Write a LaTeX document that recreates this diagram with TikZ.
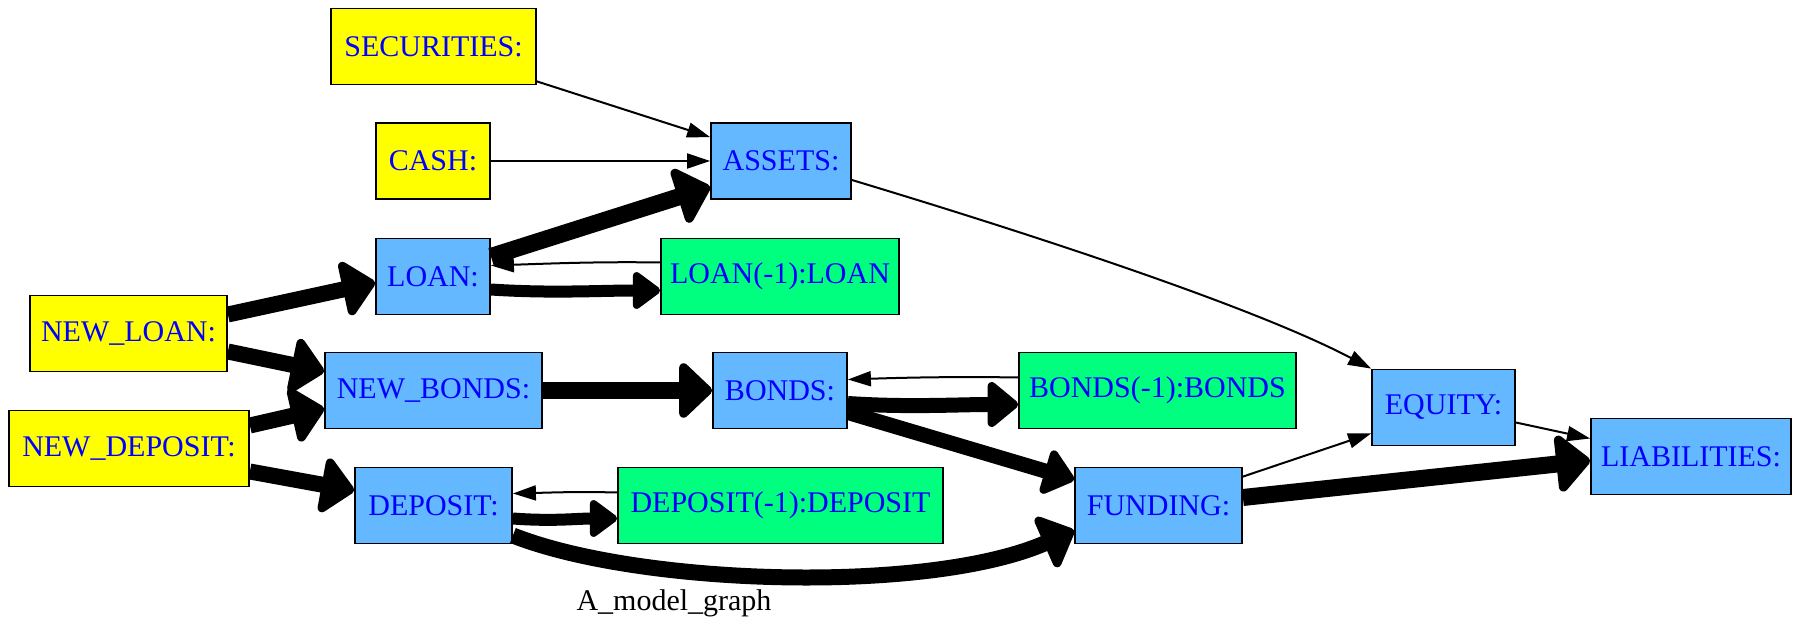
\documentclass[tikz,border=0pt]{standalone}
\usepackage{fontspec}
\setmainfont{Liberation Serif}
\usetikzlibrary{arrows.meta,calc}
\definecolor{gvyellow}{RGB}{255,255,0}
\definecolor{gvblue}{RGB}{99,184,255}
\definecolor{gvgreen}{RGB}{0,255,127}
\definecolor{gvtext}{RGB}{0,0,255}
\tikzset{
  box/.style={draw=black, line width=0.9pt, rectangle, minimum height=38pt, inner sep=0pt,
    font=\fontsize{15pt}{18pt}\selectfont, text=gvtext},
  exo/.style={box, fill=gvyellow},
  endo/.style={box, fill=gvblue},
  lagged/.style={box, fill=gvgreen},
  thin/.style={line width=1pt, -{Triangle[length=11.5pt,width=7.5pt]}},
  wA/.style={line width=6pt, line join=round, -{Triangle[round,line width=4pt,length=15pt,width=21pt]}},
  wB/.style={line width=7.5pt, line join=round, -{Triangle[round,line width=5pt,length=16.5pt,width=26pt]}},
  wC/.style={line width=8pt, line join=round, -{Triangle[round,line width=5pt,length=17.5pt,width=32pt]}},
  wD/.style={line width=8.5pt, line join=round, -{Triangle[round,line width=5pt,length=18pt,width=33pt]}},
}
\begin{document}
\begin{tikzpicture}[x=0.5pt,y=-0.5pt]
\useasboundingbox (0,0) rectangle (1800,636);
% nodes
\node[exo, minimum width=102.5pt] (sec) at (433.5,46.5) {SECURITIES:};
\node[exo, minimum width=57pt] (cash) at (433,161) {CASH:};
\node[endo, minimum width=70pt] (assets) at (781,161) {ASSETS:};
\node[endo, minimum width=57pt] (loan) at (433,276.5) {LOAN:};
\node[lagged, minimum width=119pt] (loanl) at (780,276.5) {LOAN(-1):LOAN};
\node[exo, minimum width=98.5pt] (newloan) at (128.5,333.5) {NEW\_LOAN:};
\node[endo, minimum width=108.5pt] (newbonds) at (433.5,390.5) {NEW\_BONDS:};
\node[endo, minimum width=67pt] (bonds) at (780,390.5) {BONDS:};
\node[lagged, minimum width=138.5pt] (bondsl) at (1157.5,390.5) {BONDS(-1):BONDS};
\node[endo, minimum width=71.5pt] (equity) at (1443.5,407.5) {EQUITY:};
\node[endo, minimum width=100pt] (liab) at (1691,456.5) {LIABILITIES:};
\node[exo, minimum width=120pt] (newdep) at (129,448.5) {NEW\_DEPOSIT:};
\node[endo, minimum width=78.5pt] (deposit) at (433.5,505.5) {DEPOSIT:};
\node[lagged, minimum width=162.5pt] (depl) at (780.5,505.5) {DEPOSIT(-1):DEPOSIT};
\node[endo, minimum width=83.5pt] (funding) at (1158.5,505.5) {FUNDING:};
\node[font=\fontsize{15pt}{18pt}\selectfont] (title) at (674,603) {A\_model\_graph};
% edges
\draw[thin] ($(sec.south east)+(0,-4)$) -- ($(assets.north west)+(0,15)$);
\draw[thin] (cash.east) -- (assets.west);
\draw[wD] ($(loan.east)+(0,-20)$) -- ($(assets.south west)+(0,-13)$);
\draw[thin] ($(loanl.west)+(0,-14)$) .. controls +(-60,-1) and +(60,-2) .. ($(loan.east)+(0,-11)$);
\draw[wA] ($(loan.east)+(0,13)$) .. controls +(60,4) and +(-60,0) .. ($(loanl.west)+(0,14)$);
\draw[wC] ($(newloan.east)+(0,-19)$) -- ($(loan.west)+(0,6)$);
\draw[wC] ($(newloan.east)+(0,18)$) -- ($(newbonds.west)+(0,-19)$);
\draw[wC] ($(newdep.east)+(0,-23)$) -- ($(newbonds.west)+(0,18)$);
\draw[wC] ($(newdep.east)+(0,23)$) -- ($(deposit.west)+(0,-15)$);
\draw[wC] (newbonds.east) -- (bonds.west);
\draw[thin] ($(bondsl.west)+(0,-13)$) .. controls +(-60,-1) and +(60,-2) .. ($(bonds.east)+(0,-11)$);
\draw[wB] ($(bonds.east)+(0,13)$) .. controls +(60,4) and +(-60,0) .. ($(bondsl.west)+(0,14)$);
\draw[wB] ($(bonds.east)+(0,22)$) -- ($(funding.north west)+(0,13)$);
\draw[thin] ($(depl.west)+(0,-13)$) .. controls +(-40,-1) and +(40,-1) .. ($(deposit.east)+(0,-12)$);
\draw[wA] ($(deposit.east)+(0,13)$) .. controls +(40,3) and +(-40,0) .. ($(depl.west)+(0,13)$);
\draw[wC] ($(deposit.east)+(0,30)$) .. controls +(128,50.5) and +(-145,63.5) .. ($(funding.west)+(0,25)$);
\draw[thin] ($(assets.east)+(0,19)$) .. controls +(199,60) and +(-112,-59) .. (equity.north west);
\draw[thin] ($(equity.east)+(0,15)$) -- ($(liab.west)+(0,-18)$);
\draw[thin] ($(funding.north east)+(0,10)$) -- ($(equity.south west)+(0,-13)$);
\draw[wD] ($(funding.east)+(0,-8)$) -- ($(liab.west)+(0,4)$);
\end{tikzpicture}
\end{document}
